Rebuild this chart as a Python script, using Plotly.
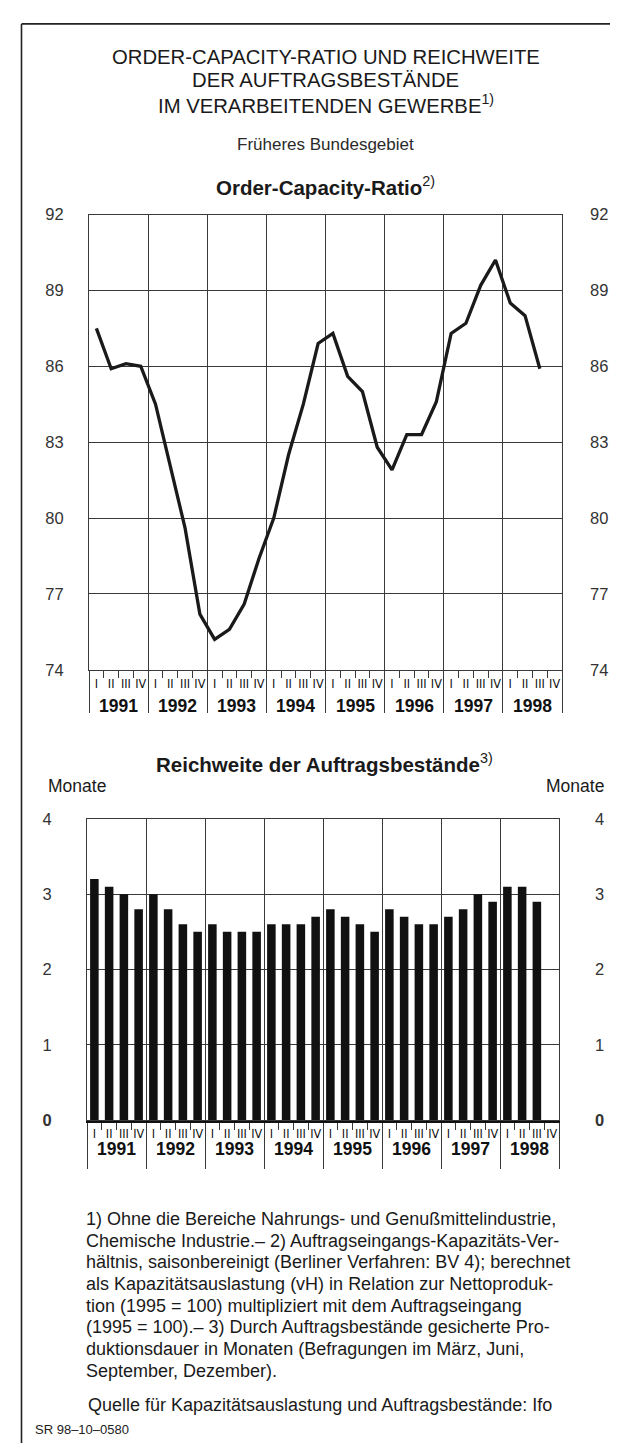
import plotly.graph_objects as go

W, H = 618, 1444
FONT = "Liberation Sans, Arial, Helvetica, sans-serif"
NARROW = "Liberation Sans Narrow, Arial Narrow, DejaVu Sans Condensed, sans-serif"
INK = "#1a1a1a"
GRID = "#3a3a3a"

years = ["1991", "1992", "1993", "1994", "1995", "1996", "1997", "1998"]
quarters = ["I", "II", "III", "IV"]

# Order-Capacity-Ratio, quarterly, 1991 I - 1998 III
ocr = [87.5, 85.9, 86.1, 86.0, 84.5, 82.1, 79.6, 76.2,
       75.2, 75.6, 76.6, 78.4, 80.0, 82.5, 84.5, 86.9,
       87.3, 85.6, 85.0, 82.8, 81.9, 83.3, 83.3, 84.6,
       87.3, 87.7, 89.2, 90.2, 88.5, 88.0, 85.9]

# Reichweite der Auftragsbestaende in Monaten, 1991 I - 1998 III
reichweite = [3.2, 3.1, 3.0, 2.8, 3.0, 2.8, 2.6, 2.5,
              2.6, 2.5, 2.5, 2.5, 2.6, 2.6, 2.6, 2.7,
              2.8, 2.7, 2.6, 2.5, 2.8, 2.7, 2.6, 2.6,
              2.7, 2.8, 3.0, 2.9, 3.1, 3.1, 2.9]

ocr_ticks = [74, 77, 80, 83, 86, 89, 92]
rw_ticks = [0, 1, 2, 3, 4]
rw_ticktext = ["<b>0</b>", "1", "2", "3", "4"]

footnote_lines = [
    "1) Ohne die Bereiche Nahrungs- und Genußmittelindustrie,",
    "Chemische Industrie.– 2) Auftragseingangs-Kapazitäts-Ver-",
    "hältnis, saisonbereinigt (Berliner Verfahren: BV 4); berechnet",
    "als Kapazitätsauslastung (vH) in Relation zur Nettoproduk-",
    "tion (1995 = 100) multipliziert mit dem Auftragseingang",
    "(1995 = 100).– 3) Durch Auftragsbestände gesicherte Pro-",
    "duktionsdauer in Monaten (Befragungen im März, Juni,",
    "September, Dezember).",
]

n_q = len(years) * len(quarters)
q_centers = [i + 0.5 for i in range(n_q)]
q_labels = quarters * len(years)
year_bounds = list(range(0, n_q + 1, 4))


def px(x):
    return x / W


def py(y):
    return 1 - y / H


fig = go.Figure()

# top chart
fig.add_trace(go.Scatter(x=q_centers[:len(ocr)], y=ocr, mode="lines",
                         line=dict(color=INK, width=3.3), xaxis="x", yaxis="y"))
fig.add_trace(go.Scatter(x=q_centers[:len(ocr)], y=ocr, mode="lines", opacity=0,
                         xaxis="x", yaxis="y2", hoverinfo="skip"))
fig.add_trace(go.Scatter(x=q_centers[:len(ocr)], y=ocr, mode="lines", opacity=0,
                         xaxis="x3", yaxis="y", hoverinfo="skip"))

# bottom chart
fig.add_trace(go.Bar(x=q_centers[:len(reichweite)], y=reichweite, width=0.58,
                     marker=dict(color="#111111", line=dict(width=0)),
                     xaxis="x2", yaxis="y3"))
fig.add_trace(go.Scatter(x=q_centers[:len(reichweite)], y=reichweite, mode="lines",
                         opacity=0, xaxis="x2", yaxis="y4", hoverinfo="skip"))
fig.add_trace(go.Scatter(x=q_centers[:len(reichweite)], y=reichweite, mode="lines",
                         opacity=0, xaxis="x4", yaxis="y3", hoverinfo="skip"))

tick_font = dict(family=FONT, size=16.5, color="#333333")
roman_font = dict(family=NARROW, size=12.5, color="#111111")


def grid_xaxis(domain, anchor, sep_len, line_w):
    return dict(domain=domain, anchor=anchor, range=[0, n_q], tickmode="array",
                tickvals=year_bounds, showticklabels=False, ticks="outside",
                ticklen=sep_len, tickwidth=1, tickcolor=GRID,
                showgrid=True, gridcolor=GRID, gridwidth=1, zeroline=False,
                showline=True, linecolor="#111111", linewidth=line_w,
                minor=dict(tickmode="array", tickvals=list(range(n_q + 1)),
                           ticks="outside", ticklen=7, tickwidth=1,
                           tickcolor=GRID, showgrid=False),
                fixedrange=True)


def label_xaxis(domain, anchor, over):
    return dict(domain=domain, anchor=anchor, overlaying=over, range=[0, n_q],
                tickmode="array", tickvals=q_centers, ticktext=q_labels,
                ticks="", showgrid=False, zeroline=False, showline=True,
                mirror=True, linecolor=GRID, linewidth=1,
                tickfont=roman_font, ticklabelstandoff=2, side="bottom")


top_x = [px(81), px(554)]
top_y = [py(661), py(200)]
bot_x = [px(79), px(551)]
bot_y = [py(1117), py(812)]

fig.update_layout(
    width=W, height=H, margin=dict(l=0, r=0, t=0, b=0),
    paper_bgcolor="white", plot_bgcolor="white", showlegend=False,
    font=dict(family=FONT, color=INK),
    xaxis=grid_xaxis(top_x, "y", 42, 1),
    xaxis3=label_xaxis(top_x, "y", "x"),
    yaxis=dict(domain=top_y, anchor="x", range=[74, 92], tickmode="array",
               tickvals=ocr_ticks, ticks="", showgrid=True, gridcolor=GRID,
               gridwidth=1, zeroline=False, showline=True, mirror=True,
               linecolor=GRID, linewidth=1, tickfont=tick_font,
               ticklabelstandoff=21),
    yaxis2=dict(overlaying="y", anchor="x", side="right", range=[74, 92],
                tickmode="array", tickvals=ocr_ticks, ticks="", showgrid=False,
                zeroline=False, showline=False, tickfont=tick_font,
                ticklabelstandoff=27),
    xaxis2=grid_xaxis(bot_x, "y3", 46, 3),
    xaxis4=label_xaxis(bot_x, "y3", "x2"),
    yaxis3=dict(domain=bot_y, anchor="x2", range=[0, 4], tickmode="array",
                tickvals=rw_ticks, ticktext=rw_ticktext, ticks="",
                showgrid=True, gridcolor=GRID, gridwidth=1, zeroline=False,
                showline=True, mirror=True, linecolor=GRID, linewidth=1,
                tickfont=tick_font, ticklabelstandoff=31),
    yaxis4=dict(overlaying="y3", anchor="x2", side="right", range=[0, 4],
                tickmode="array", tickvals=rw_ticks, ticktext=rw_ticktext,
                ticks="", showgrid=False, zeroline=False, showline=False,
                tickfont=tick_font, ticklabelstandoff=35),
)

annotations = []


def text(x, y, s, size, xanchor="center", align="center", yanchor="middle",
         color=INK, family=FONT):
    annotations.append(dict(x=x, y=y, xref="paper", yref="paper", text=s,
                            showarrow=False, xanchor=xanchor, yanchor=yanchor,
                            align=align, font=dict(family=family, size=size, color=color)))


cx = px(317.5)
text(cx, py(40), "ORDER-CAPACITY-RATIO UND REICHWEITE", 20.3)
text(cx, py(64), "DER AUFTRAGSBESTÄNDE", 20.3)
text(cx, py(88), "IM VERARBEITENDEN GEWERBE<sup>1)</sup>", 20.3)
text(cx, py(129), "Früheres Bundesgebiet", 17, color="#2a2a2a")
text(cx, py(171), "<b>Order-Capacity-Ratio</b><sup>2)</sup>", 20.5)
text(px(316), py(755), "<b>Reichweite der Auftragsbestände</b><sup>3)</sup>", 20.5)
text(px(38), py(779), "Monate", 17.5, xanchor="left")
text(px(598), py(779), "Monate", 17.5, xanchor="right")

# year labels under both charts
for i, yr in enumerate(years):
    annotations.append(dict(x=4 * i + 2, y=py(698), xref="x", yref="paper",
                            text=f"<b>{yr}</b>", showarrow=False,
                            font=dict(family=FONT, size=17.5, color="#111111")))
    annotations.append(dict(x=4 * i + 2, y=py(1158), xref="x2", yref="paper",
                            text=f"<b>{yr}</b>", showarrow=False,
                            font=dict(family=FONT, size=17.5, color="#111111")))

for k, line in enumerate(footnote_lines):
    text(px(76), py(1217 + 22 * k), line, 18, xanchor="left", align="left")
text(px(312), py(1406), "Quelle für Kapazitätsauslastung und Auftragsbestände: Ifo", 18)
text(px(25), py(1430), "SR 98–10–0580", 13, xanchor="left", color="#222222")

fig.update_layout(annotations=annotations)

# frame around the sheet
fig.add_shape(type="line", xref="paper", yref="paper", x0=px(13.5), x1=px(13.5),
              y0=0, y1=py(7), line=dict(color="#222222", width=1.6))
fig.add_shape(type="line", xref="paper", yref="paper", x0=px(13.5), x1=1,
              y0=py(7), y1=py(7), line=dict(color="#222222", width=1.6))

fig.write_html("out.html")
